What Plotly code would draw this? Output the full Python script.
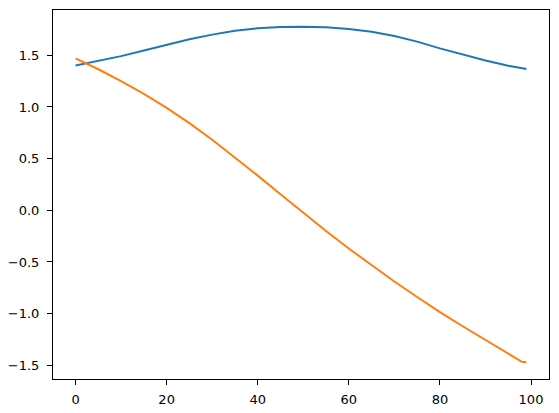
import plotly.graph_objects as go

x_vals = [0, 5, 10, 15, 20, 25, 30, 35, 40, 45, 50, 55, 60, 65, 70, 75, 80, 85, 90, 95, 98, 99]
blue_vals = [1.402, 1.444, 1.492, 1.546, 1.600, 1.655, 1.700, 1.737, 1.761, 1.774, 1.776, 1.771,
             1.755, 1.727, 1.686, 1.632, 1.567, 1.505, 1.450, 1.398, 1.370, 1.367]
orange_vals = [1.470, 1.365, 1.251, 1.127, 0.991, 0.843, 0.683, 0.513, 0.336, 0.155, -0.025, -0.200,
               -0.370, -0.533, -0.689, -0.839, -0.985, -1.122, -1.252, -1.382, -1.466, -1.470]
x_ticks = [0, 20, 40, 60, 80, 100]
y_ticks = [-1.5, -1.0, -0.5, 0.0, 0.5, 1.0, 1.5]

fig = go.Figure()
fig.add_trace(go.Scatter(x=x_vals, y=blue_vals, mode="lines",
                         line=dict(color="#1f77b4", width=2)))
fig.add_trace(go.Scatter(x=x_vals, y=orange_vals, mode="lines",
                         line=dict(color="#ff7f0e", width=2)))

xmin, xmax = min(x_vals), max(x_vals)
xpad = (xmax - xmin) * 0.05
allv = blue_vals + orange_vals
ymin, ymax = min(allv), max(allv)
ypad = (ymax - ymin) * 0.05

axis_common = dict(showgrid=False, zeroline=False, showline=True, linecolor="black", linewidth=1,
                   mirror=True, ticks="outside", ticklen=5, tickwidth=1, tickcolor="black",
                   automargin=False,
                   tickfont=dict(family="DejaVu Sans", size=13, color="black"))
fig.update_xaxes(range=[xmin - xpad, xmax + xpad], tickvals=x_ticks,
                 ticktext=[str(t) for t in x_ticks], ticklabelstandoff=3, **axis_common)
fig.update_yaxes(range=[ymin - ypad, ymax + ypad], tickvals=y_ticks,
                 ticktext=[f"{t:.1f}".replace("-", "\u2212") for t in y_ticks],
                 ticklabelstandoff=5, **axis_common)
fig.update_layout(width=559, height=413, margin=dict(l=53, r=10, t=10, b=34),
                  paper_bgcolor="white", plot_bgcolor="white", showlegend=False,
                  hovermode=False)
fig.write_html("out.html", config={"displayModeBar": False, "staticPlot": True},
               post_script="document.body.style.margin='0';document.body.style.overflow='hidden';")
